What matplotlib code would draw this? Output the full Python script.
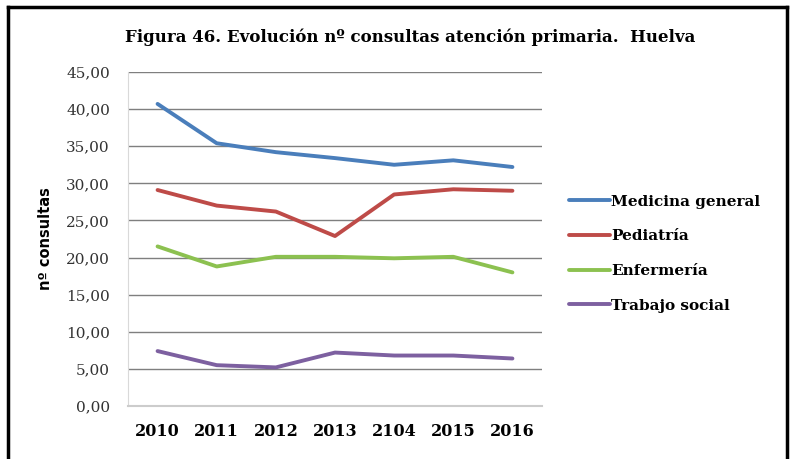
import matplotlib.pyplot as plt
from matplotlib.lines import Line2D

years = ['2010', '2011', '2012', '2013', '2104', '2015', '2016']
medicina = [40.7, 35.4, 34.2, 33.4, 32.5, 33.1, 32.2]
pediatria = [29.1, 27.0, 26.2, 22.9, 28.5, 29.2, 29.0]
enfermeria = [21.5, 18.8, 20.1, 20.1, 19.9, 20.1, 18.0]
trabajo = [7.4, 5.5, 5.2, 7.2, 6.8, 6.8, 6.4]
series_names = ['Medicina general', 'Pediatría', 'Enfermería', 'Trabajo social']
colours = ['#4a7ebb', '#be4b48', '#8cc150', '#7d60a0']
yticks = [0, 5, 10, 15, 20, 25, 30, 35, 40, 45]

fig = plt.figure(figsize=(7.91, 4.59), dpi=100)
ax = fig.add_axes([128 / 791, 1 - 406 / 459, 414 / 791, 334 / 459])

x = list(range(len(years)))
for vals, name, c in zip([medicina, pediatria, enfermeria, trabajo], series_names, colours):
    ax.plot(x, vals, color=c, linewidth=2.8, label=name, solid_capstyle='round')

ax.set_xlim(-0.5, len(years) - 0.5)
ax.set_ylim(0, 45)
ax.set_yticks(yticks)
ax.set_yticklabels(['%.2f' % v for v in yticks], family='DejaVu Serif', fontsize=11, color='#333333')
ax.yaxis.set_major_formatter(plt.FuncFormatter(lambda v, p: ('%.2f' % v).replace('.', ',')))
ax.set_xticks(x)
ax.set_xticklabels(years, family='DejaVu Serif', fontweight='bold', fontsize=11.5)
ax.tick_params(length=0, pad=12)
ax.tick_params(axis='y', pad=13)
ax.grid(axis='y', color='#7f7f7f', linewidth=1.0)
ax.set_axisbelow(True)
for s in ['top', 'right']:
    ax.spines[s].set_visible(False)
ax.spines['left'].set_color('#d9d9d9')
ax.spines['bottom'].set_color('#cccccc')
ax.spines['bottom'].set_linewidth(1.5)

ax.set_ylabel('nº consultas', family='DejaVu Sans', fontweight='bold', fontsize=10.5)
ax.yaxis.set_label_coords(-0.18, 0.5)

fig.text(410 / 791, 1 - 37 / 459, 'Figura 46. Evolución nº consultas atención primaria.  Huelva',
         ha='center', va='center', family='DejaVu Serif', fontweight='bold', fontsize=12)

ax.legend(loc='upper left', bbox_to_anchor=(561 / 791, 1 - 187 / 459), bbox_transform=fig.transFigure,
          frameon=False, prop={'family': 'DejaVu Serif', 'weight': 'bold', 'size': 11},
          handlelength=2.7, handletextpad=0.1, labelspacing=1.35, borderpad=0)

# marco exterior
for xs, ys in [([8, 8], [459, 7]), ([8, 787], [7, 7]), ([787, 787], [7, 459])]:
    fig.add_artist(Line2D([v / 791 for v in xs], [1 - v / 459 for v in ys],
                          transform=fig.transFigure, color='black', linewidth=2.5))

fig.savefig('out.png', dpi=100)
